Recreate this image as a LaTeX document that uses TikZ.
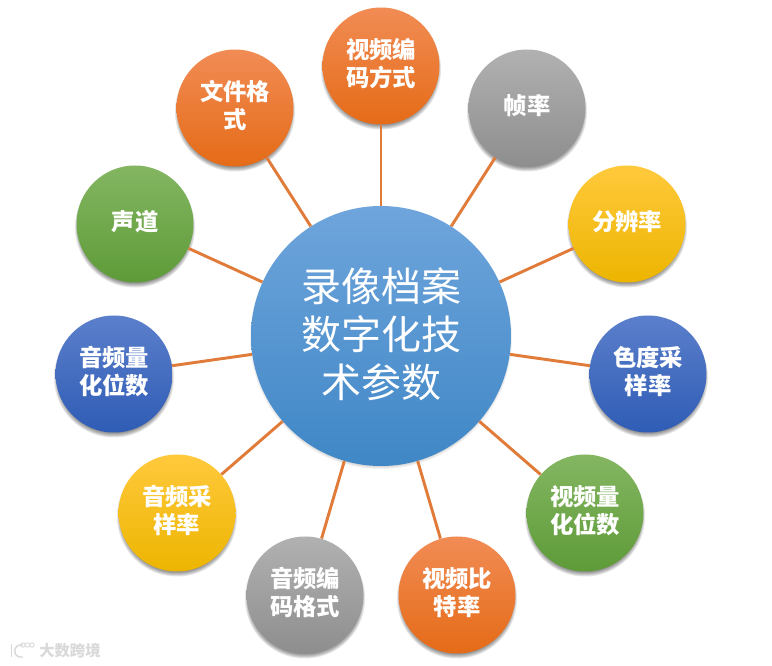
\documentclass[tikz,border=0pt]{standalone}
\usepackage{xcolor}
\usepackage{fontspec}
\newfontfamily\cjk{Noto Sans CJK SC}
\usepackage{tikz}
\usetikzlibrary{calc,backgrounds}
\definecolor{linkc}{HTML}{E07B39}
\definecolor{hubA}{HTML}{6FA5DC}
\definecolor{hubB}{HTML}{5B9BD5}
\definecolor{hubC}{HTML}{3F87C6}
\definecolor{orangeA}{HTML}{F18C55}
\definecolor{orangeB}{HTML}{F47A24}
\definecolor{orangeC}{HTML}{E56B17}
\definecolor{grayA}{HTML}{B1B1B1}
\definecolor{grayB}{HTML}{A3A3A3}
\definecolor{grayC}{HTML}{8E8E8E}
\definecolor{yellowA}{HTML}{FFC93C}
\definecolor{yellowB}{HTML}{FFC000}
\definecolor{yellowC}{HTML}{EDB500}
\definecolor{blueA}{HTML}{5B7FCB}
\definecolor{blueB}{HTML}{3F6FC9}
\definecolor{blueC}{HTML}{2F5CB5}
\definecolor{greenA}{HTML}{84B662}
\definecolor{greenB}{HTML}{70AD47}
\definecolor{greenC}{HTML}{5E9B38}

\begin{document}
\begin{tikzpicture}[
  x=0.75pt, y=-0.75pt,
  font=\cjk,
  ball/.style={circle, minimum size=87.75pt, inner sep=0pt, align=center, text=white, text depth=5pt,
               font=\cjk\bfseries\fontsize{17.5}{21}\selectfont},
  hubball/.style={ball, minimum size=195pt, text depth=5.5pt, font=\cjk\fontsize{30}{36}\selectfont,
              top color=hubA, middle color=hubB, bottom color=hubC},
  orangeball/.style={ball, top color=orangeA, middle color=orangeB, bottom color=orangeC},
  grayball/.style={ball, top color=grayA, middle color=grayB, bottom color=grayC},
  yellowball/.style={ball, top color=yellowA, middle color=yellowB, bottom color=yellowC},
  blueball/.style={ball, top color=blueA, middle color=blueB, bottom color=blueC},
  greenball/.style={ball, top color=greenA, middle color=greenB, bottom color=greenC},
  link/.style={draw=linkc, line width=2.2pt},
  stamp/.style={text=gray!30, font=\cjk\bfseries\fontsize{11.5}{12}\selectfont, inner sep=0pt},
  logo/.style={draw=gray!30, line width=1.1pt},
]
\useasboundingbox (0,0) rectangle (772,666);
\node[hubball] (hub) at (381,336) {录像档案\\数字化技\\术参数};
\node[orangeball] (s1) at (381,66) {视频编\\码方式};
\node[grayball] (s2) at (527,108) {帧率};
\node[yellowball] (s3) at (627,224) {分辨率};
\node[blueball] (s4) at (648,374) {色度采\\样率};
\node[greenball] (s5) at (585,513) {视频量\\化位数};
\node[orangeball] (s6) at (457,595) {视频比\\特率};
\node[grayball] (s7) at (305,595) {音频编\\码格式};
\node[yellowball] (s8) at (177,513) {音频采\\样率};
\node[blueball] (s9) at (114,374) {音频量\\化位数};
\node[greenball] (s10) at (135,224) {声道};
\node[orangeball] (s11) at (235,108) {文件格\\式};
\foreach \a in {s1,s2,s3,s4,s5,s6,s7,s8,s9,s10,s11} \draw[link] (hub) -- (\a);
% soft shadows under the balls
\begin{scope}[on background layer]
\foreach \a in {s1,s2,s3,s4,s5,s6,s7,s8,s9,s10,s11}
  \foreach \r in {54,55,...,60} \fill[black, opacity=.1] ($(\a)+(0,3.5)$) circle (\r);
\foreach \r in {127,128,...,131} \fill[black, opacity=.05] ($(hub)+(0,2)$) circle (\r);
\end{scope}
% watermark in the lower left corner
\node[stamp] (wm) at (70,651) {大数跨境};
\draw[logo] (11.5,644) -- (11.5,657);
\draw[logo] (23,645) .. controls (12,643) and (12,659) .. (23,657);
\foreach \x in {23,27.5,32} \draw[logo, line width=.7pt] (\x,645) circle (2.2);
\end{tikzpicture}
\end{document}
